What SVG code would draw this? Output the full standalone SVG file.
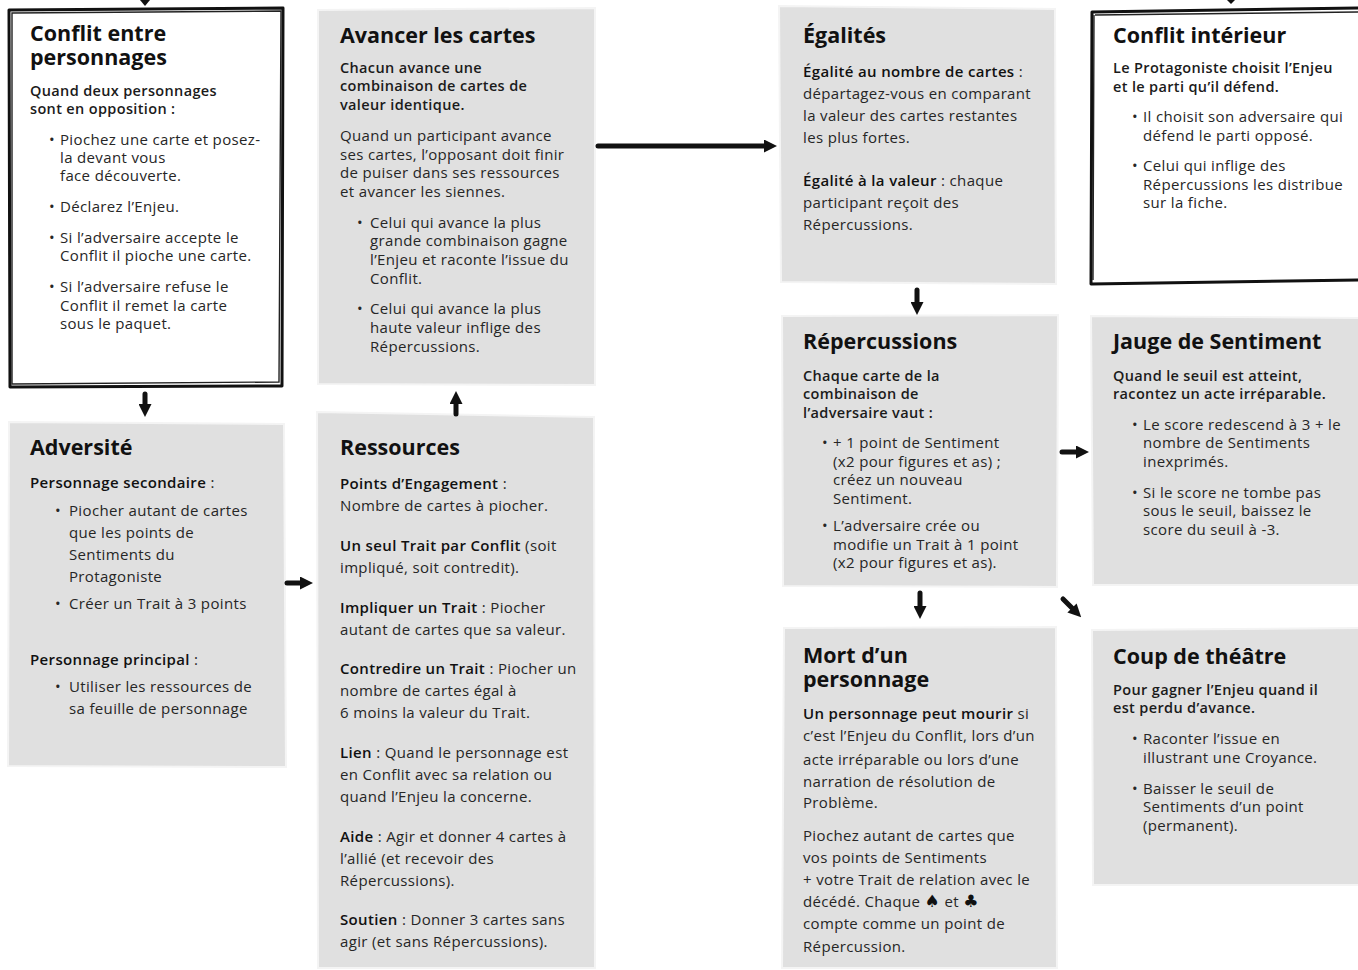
<svg xmlns="http://www.w3.org/2000/svg" width="1358" height="970" viewBox="0 0 1358 970">
<style>
text{font-family:"Open Sans","Liberation Sans",sans-serif;fill:#1b1b1b}
.t{font-size:21.5px;font-weight:700;fill:#111}
.l{font-size:14.5px;font-weight:600;letter-spacing:0.35px}
.b{font-size:15px;font-weight:400;fill:#262626;letter-spacing:0.35px}
.s{font-weight:600;fill:#111}
.sym{font-family:"DejaVu Sans",sans-serif;font-size:17px;fill:#111}
.card{fill:#e0e0e0;stroke:#f4f4f4;stroke-width:2}
.frame{fill:#fff;stroke:#111;stroke-width:3;stroke-linejoin:round}
.frame2{fill:none;stroke:#222;stroke-width:1.4}
.c{stroke:#111;stroke-width:5;fill:none;stroke-linecap:round}
</style>
<defs>
<marker id="ah" viewBox="0 0 10 10" refX="0" refY="5" markerWidth="13" markerHeight="13" markerUnits="userSpaceOnUse" orient="auto"><path d="M0,0 L10,5 L0,10 z" fill="#111"/></marker>
</defs>
<rect width="1358" height="970" fill="#fff"/>

<g id="conflit-entre">
<path class="frame" d="M9,10 L283,8 L282,386 L10,387 Z"/>
<path class="frame2" d="M12,13 L281,11 L279,382 L12,384 Z"/>
<text class="t" x="30" y="41">Conflit entre<tspan x="30" dy="24">personnages</tspan></text>
<text class="l" x="30" y="96">Quand deux personnages</text>
<text class="l" x="30" y="114">sont en opposition :</text>
<text class="b" x="49" y="145">•</text><text class="b" x="60" y="145">Piochez une carte et posez-</text>
<text class="b" x="60" y="163">la devant vous</text>
<text class="b" x="60" y="181">face découverte.</text>
<text class="b" x="49" y="212">•</text><text class="b" x="60" y="212">Déclarez l’Enjeu.</text>
<text class="b" x="49" y="243">•</text><text class="b" x="60" y="243">Si l’adversaire accepte le</text>
<text class="b" x="60" y="261">Conflit il pioche une carte.</text>
<text class="b" x="49" y="292">•</text><text class="b" x="60" y="292">Si l’adversaire refuse le</text>
<text class="b" x="60" y="311">Conflit il remet la carte</text>
<text class="b" x="60" y="329">sous le paquet.</text>
</g>

<g id="avancer">
<path class="card" d="M318,10 L595,8 L595,385 L318,384 Z"/>
<text class="t" x="340" y="43">Avancer les cartes</text>
<text class="l" x="340" y="73">Chacun avance une</text>
<text class="l" x="340" y="91">combinaison de cartes de</text>
<text class="l" x="340" y="110">valeur identique.</text>
<text class="b" x="340" y="141">Quand un participant avance</text>
<text class="b" x="340" y="160">ses cartes, l’opposant doit finir</text>
<text class="b" x="340" y="178">de puiser dans ses ressources</text>
<text class="b" x="340" y="197">et avancer les siennes.</text>
<text class="b" x="357" y="228">•</text><text class="b" x="370" y="228">Celui qui avance la plus</text>
<text class="b" x="370" y="246">grande combinaison gagne</text>
<text class="b" x="370" y="265">l’Enjeu et raconte l’issue du</text>
<text class="b" x="370" y="284">Conflit.</text>
<text class="b" x="357" y="314">•</text><text class="b" x="370" y="314">Celui qui avance la plus</text>
<text class="b" x="370" y="333">haute valeur inflige des</text>
<text class="b" x="370" y="352">Répercussions.</text>
</g>

<g id="egalites">
<path class="card" d="M779,6 L1055,9 L1056,284 L781,282 Z"/>
<text class="t" x="803" y="43">Égalités</text>
<text class="b" x="803" y="77"><tspan class="s">Égalité au nombre de cartes</tspan> :</text>
<text class="b" x="803" y="99">départagez-vous en comparant</text>
<text class="b" x="803" y="121">la valeur des cartes restantes</text>
<text class="b" x="803" y="143">les plus fortes.</text>
<text class="b" x="803" y="186"><tspan class="s">Égalité à la valeur</tspan> : chaque</text>
<text class="b" x="803" y="208">participant reçoit des</text>
<text class="b" x="803" y="230">Répercussions.</text>
</g>

<g id="conflit-interieur">
<path class="frame" d="M1092,12 L1362,8 L1362,280 L1091,284 Z"/>
<path class="frame2" d="M1095,15 L1362,12 M1094,15 L1093,280"/>
<text class="t" x="1113" y="43">Conflit intérieur</text>
<text class="l" x="1113" y="73">Le Protagoniste choisit l’Enjeu</text>
<text class="l" x="1113" y="92">et le parti qu’il défend.</text>
<text class="b" x="1132" y="122">•</text><text class="b" x="1143" y="122">Il choisit son adversaire qui</text>
<text class="b" x="1143" y="141">défend le parti opposé.</text>
<text class="b" x="1132" y="171">•</text><text class="b" x="1143" y="171">Celui qui inflige des</text>
<text class="b" x="1143" y="190">Répercussions les distribue</text>
<text class="b" x="1143" y="208">sur la fiche.</text>
</g>

<g id="adversite">
<path class="card" d="M9,422 L284,424 L286,767 L8,766 Z"/>
<text class="t" x="30" y="455">Adversité</text>
<text class="b" x="30" y="488"><tspan class="s">Personnage secondaire</tspan> :</text>
<text class="b" x="55" y="516">•</text><text class="b" x="69" y="516">Piocher autant de cartes</text>
<text class="b" x="69" y="538">que les points de</text>
<text class="b" x="69" y="560">Sentiments du</text>
<text class="b" x="69" y="582">Protagoniste</text>
<text class="b" x="55" y="609">•</text><text class="b" x="69" y="609">Créer un Trait à 3 points</text>
<text class="b" x="30" y="665"><tspan class="s">Personnage principal</tspan> :</text>
<text class="b" x="55" y="692">•</text><text class="b" x="69" y="692">Utiliser les ressources de</text>
<text class="b" x="69" y="714">sa feuille de personnage</text>
</g>

<g id="ressources">
<path class="card" d="M317,412 L594,417 L595,968 L318,968 Z"/>
<text class="t" x="340" y="455">Ressources</text>
<text class="b" x="340" y="489"><tspan class="s">Points d’Engagement</tspan> :</text>
<text class="b" x="340" y="511">Nombre de cartes à piocher.</text>
<text class="b" x="340" y="551"><tspan class="s">Un seul Trait par Conflit</tspan> (soit</text>
<text class="b" x="340" y="573">impliqué, soit contredit).</text>
<text class="b" x="340" y="613"><tspan class="s">Impliquer un Trait</tspan> : Piocher</text>
<text class="b" x="340" y="635">autant de cartes que sa valeur.</text>
<text class="b" x="340" y="674"><tspan class="s">Contredire un Trait</tspan> : Piocher un</text>
<text class="b" x="340" y="696">nombre de cartes égal à</text>
<text class="b" x="340" y="718">6 moins la valeur du Trait.</text>
<text class="b" x="340" y="758"><tspan class="s">Lien</tspan> : Quand le personnage est</text>
<text class="b" x="340" y="780">en Conflit avec sa relation ou</text>
<text class="b" x="340" y="802">quand l’Enjeu la concerne.</text>
<text class="b" x="340" y="842"><tspan class="s">Aide</tspan> : Agir et donner 4 cartes à</text>
<text class="b" x="340" y="864">l’allié (et recevoir des</text>
<text class="b" x="340" y="886">Répercussions).</text>
<text class="b" x="340" y="925"><tspan class="s">Soutien</tspan> : Donner 3 cartes sans</text>
<text class="b" x="340" y="947">agir (et sans Répercussions).</text>
</g>

<g id="repercussions">
<path class="card" d="M782,316 L1058,315 L1057,587 L783,586 Z"/>
<text class="t" x="803" y="349">Répercussions</text>
<text class="l" x="803" y="381">Chaque carte de la</text>
<text class="l" x="803" y="399">combinaison de</text>
<text class="l" x="803" y="418">l’adversaire vaut :</text>
<text class="b" x="822" y="448">•</text><text class="b" x="833" y="448">+ 1 point de Sentiment</text>
<text class="b" x="833" y="467">(x2 pour figures et as) ;</text>
<text class="b" x="833" y="485">créez un nouveau</text>
<text class="b" x="833" y="504">Sentiment.</text>
<text class="b" x="822" y="531">•</text><text class="b" x="833" y="531">L’adversaire crée ou</text>
<text class="b" x="833" y="550">modifie un Trait à 1 point</text>
<text class="b" x="833" y="568">(x2 pour figures et as).</text>
</g>

<g id="jauge">
<path class="card" d="M1091,316 L1360,318 L1360,585 L1093,585 Z"/>
<text class="t" x="1113" y="349">Jauge de Sentiment</text>
<text class="l" x="1113" y="381">Quand le seuil est atteint,</text>
<text class="l" x="1113" y="399">racontez un acte irréparable.</text>
<text class="b" x="1132" y="430">•</text><text class="b" x="1143" y="430">Le score redescend à 3 + le</text>
<text class="b" x="1143" y="448">nombre de Sentiments</text>
<text class="b" x="1143" y="467">inexprimés.</text>
<text class="b" x="1132" y="498">•</text><text class="b" x="1143" y="498">Si le score ne tombe pas</text>
<text class="b" x="1143" y="516">sous le seuil, baissez le</text>
<text class="b" x="1143" y="535">score du seuil à -3.</text>
</g>

<g id="mort">
<path class="card" d="M784,628 L1056,627 L1057,968 L782,968 Z"/>
<text class="t" x="803" y="663">Mort d’un<tspan x="803" dy="24">personnage</tspan></text>
<text class="b" x="803" y="719"><tspan class="s">Un personnage peut mourir</tspan> si</text>
<text class="b" x="803" y="741">c’est l’Enjeu du Conflit, lors d’un</text>
<text class="b" x="803" y="765">acte irréparable ou lors d’une</text>
<text class="b" x="803" y="787">narration de résolution de</text>
<text class="b" x="803" y="808">Problème.</text>
<text class="b" x="803" y="841">Piochez autant de cartes que</text>
<text class="b" x="803" y="863">vos points de Sentiments</text>
<text class="b" x="803" y="885">+ votre Trait de relation avec le</text>
<text class="b" x="803" y="907">décédé. Chaque <tspan class="sym">♠</tspan> et <tspan class="sym">♣</tspan></text>
<text class="b" x="803" y="929">compte comme un point de</text>
<text class="b" x="803" y="952">Répercussion.</text>
</g>

<g id="coup">
<path class="card" d="M1092,630 L1360,628 L1360,885 L1093,885 Z"/>
<text class="t" x="1113" y="664">Coup de théâtre</text>
<text class="l" x="1113" y="695">Pour gagner l’Enjeu quand il</text>
<text class="l" x="1113" y="713">est perdu d’avance.</text>
<text class="b" x="1132" y="744">•</text><text class="b" x="1143" y="744">Raconter l’issue en</text>
<text class="b" x="1143" y="763">illustrant une Croyance.</text>
<text class="b" x="1132" y="794">•</text><text class="b" x="1143" y="794">Baisser le seuil de</text>
<text class="b" x="1143" y="812">Sentiments d’un point</text>
<text class="b" x="1143" y="831">(permanent).</text>
</g>

<g id="connectors">
<polygon points="140,0 150,0 145,6" fill="#111"/>
<polygon points="1227,0 1235,0 1231,4" fill="#111"/>
<path class="c" d="M145,394 L145,404" marker-end="url(#ah)"/>
<path class="c" d="M456,414 L456,404" marker-end="url(#ah)"/>
<path class="c" d="M598,146 L764,146" marker-end="url(#ah)"/>
<path class="c" d="M287,583 L300,583" marker-end="url(#ah)"/>
<path class="c" d="M917,290 L917,302" marker-end="url(#ah)"/>
<path class="c" d="M1062,452 L1076,452" marker-end="url(#ah)"/>
<path class="c" d="M920,593 L920,606" marker-end="url(#ah)"/>
<path class="c" d="M1063,599 L1072,608" marker-end="url(#ah)"/>
</g>
</svg>
